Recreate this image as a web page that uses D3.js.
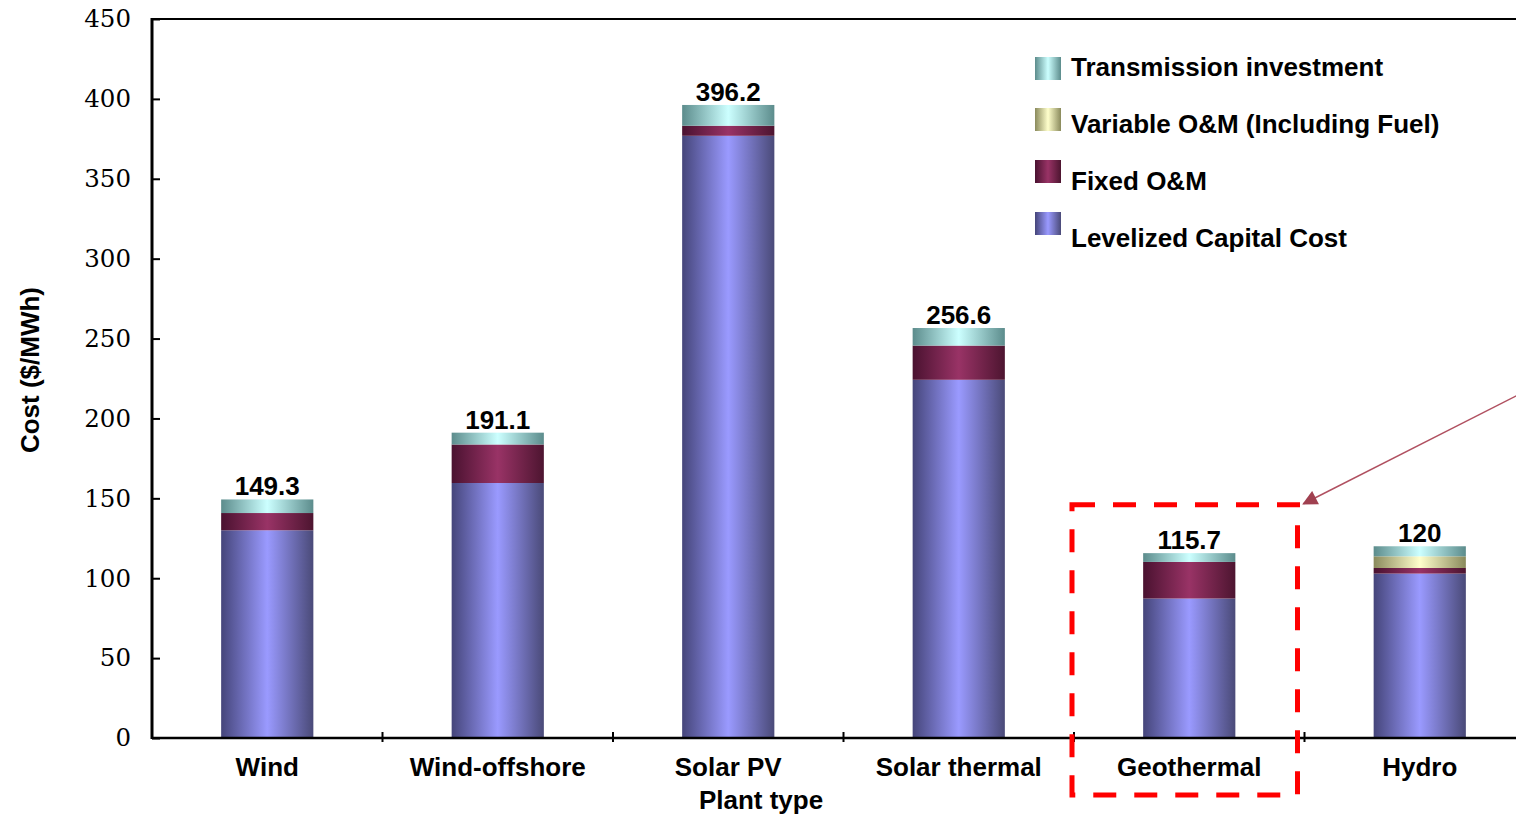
<!DOCTYPE html>
<html>
<head>
<meta charset="utf-8">
<script src="https://cdn.jsdelivr.net/npm/d3@7"></script>
<style>
  body { margin: 0; background: #fff; }
  text { font-family: "Liberation Sans", Arial, sans-serif; font-weight: bold; fill: #000; }
  .ytick text { font-family: "DejaVu Serif", serif; font-weight: normal; }
</style>
</head>
<body>
<svg id="chart" width="1516" height="816"></svg>
<script>
const plants = ["Wind", "Wind-offshore", "Solar PV", "Solar thermal", "Geothermal", "Hydro"];
const capital = [130.0, 159.6, 376.9, 224.2, 87.3, 102.9];
const fixedOM = [10.8, 24.1, 6.3, 21.4, 22.9, 3.5];
const variableOM = [0, 0, 0, 0, 0, 7.3];
const transmission = [8.5, 7.4, 13.0, 11.0, 5.5, 6.3];
const totals = ["149.3", "191.1", "396.2", "256.6", "115.7", "120"];
const yTicks = [0, 50, 100, 150, 200, 250, 300, 350, 400, 450];
const seriesNames = ["Levelized Capital Cost", "Fixed O&M", "Variable O&M (Including Fuel)", "Transmission investment"];

const cfg = {
    left: 152,
    top: 19,
    bottom: 738,
    step: 230.5,
    barFrac: 0.4,
    fontSize: 26,
};

// dark edge / light middle gradients per series
const shades = [
    ["#45457a", "#9a9aff", "#4a4a78"],
    ["#4a1230", "#993366", "#4d1530"],
    ["#8a8a5c", "#ffffcc", "#8a8a5c"],
    ["#5c8c8c", "#ccffff", "#5c8c8c"],
];

var svg = d3.select("#chart");

var x = d3.scaleBand()
    .domain(plants)
    .range([cfg.left, cfg.left + cfg.step * plants.length])
    .padding(0);

var y = d3.scaleLinear()
    .domain([0, 450])
    .range([cfg.bottom, cfg.top]);

// gradients
var defs = svg.append("defs");
shades.forEach((s, i) => {
    var g = defs.append("linearGradient")
        .attr("id", "grad" + i)
        .attr("x1", "0%").attr("x2", "100%")
        .attr("y1", "0%").attr("y2", "0%");
    g.append("stop").attr("offset", "0%").attr("stop-color", s[0]);
    g.append("stop").attr("offset", "50%").attr("stop-color", s[1]);
    g.append("stop").attr("offset", "100%").attr("stop-color", s[2]);
});

// stack the data
var rows = plants.map((p, i) => ({
    plant: p,
    capital: capital[i],
    fixed: fixedOM[i],
    variable: variableOM[i],
    trans: transmission[i],
}));
var keys = ["capital", "fixed", "variable", "trans"];
var stacked = d3.stack().keys(keys)(rows);

var barW = x.bandwidth() * cfg.barFrac;

svg.append("g")
    .selectAll("g")
    .data(stacked)
    .join("g")
    .attr("fill", (d, i) => "url(#grad" + i + ")")
    .selectAll("rect")
    .data(d => d.filter(v => v[1] - v[0] > 0))
    .join("rect")
    .attr("x", d => x(d.data.plant) + (x.bandwidth() - barW) / 2)
    .attr("width", barW)
    .attr("y", d => y(d[1]))
    .attr("height", d => y(d[0]) - y(d[1]));

// value labels on top
svg.append("g")
    .selectAll("text")
    .data(plants)
    .join("text")
    .attr("x", p => x(p) + x.bandwidth() / 2)
    .attr("y", (p, i) => y(+totals[i]) - 4)
    .attr("text-anchor", "middle")
    .attr("font-size", cfg.fontSize)
    .text((p, i) => totals[i]);

// y axis, ticks pointing inward
var yAxis = svg.append("g")
    .attr("class", "ytick")
    .attr("transform", "translate(" + cfg.left + ",0)")
    .call(d3.axisLeft(y).tickValues(yTicks).tickSize(-8).tickPadding(21));
yAxis.select(".domain").remove();
yAxis.selectAll("line").attr("stroke", "#000").attr("stroke-width", 2);
yAxis.selectAll("text").attr("font-size", 24.5).attr("fill", "#000");

svg.append("line")
    .attr("x1", cfg.left).attr("x2", cfg.left)
    .attr("y1", cfg.top - 1).attr("y2", cfg.bottom + 1)
    .attr("stroke", "#000").attr("stroke-width", 3);

// top frame line
svg.append("line")
    .attr("x1", cfg.left).attr("x2", 1516)
    .attr("y1", cfg.top).attr("y2", cfg.top)
    .attr("stroke", "#000").attr("stroke-width", 2);

// x axis line + boundary ticks
svg.append("line")
    .attr("x1", cfg.left).attr("x2", 1516)
    .attr("y1", cfg.bottom).attr("y2", cfg.bottom)
    .attr("stroke", "#000").attr("stroke-width", 2.5);

svg.append("g")
    .selectAll("line")
    .data(plants.slice(1))
    .join("line")
    .attr("x1", p => x(p)).attr("x2", p => x(p))
    .attr("y1", cfg.bottom - 6).attr("y2", cfg.bottom + 4)
    .attr("stroke", "#000").attr("stroke-width", 2);

// category labels
svg.append("g")
    .selectAll("text")
    .data(plants)
    .join("text")
    .attr("x", p => x(p) + x.bandwidth() / 2)
    .attr("y", 776)
    .attr("text-anchor", "middle")
    .attr("font-size", cfg.fontSize)
    .text(p => p);

svg.append("text")
    .attr("x", 761).attr("y", 809)
    .attr("text-anchor", "middle")
    .attr("font-size", cfg.fontSize)
    .text("Plant type");

svg.append("text")
    .attr("transform", "translate(39,370) rotate(-90)")
    .attr("text-anchor", "middle")
    .attr("font-size", cfg.fontSize)
    .text("Cost ($/MWh)");

// legend, top entry = last series
var legendTops = [212, 160, 108, 57];
var legendBase = [247, 190, 133, 76];
var leg = svg.append("g");
seriesNames.forEach((name, i) => {
    leg.append("rect")
        .attr("x", 1035).attr("y", legendTops[i])
        .attr("width", 26).attr("height", 23)
        .attr("fill", "url(#grad" + i + ")");
    leg.append("text")
        .attr("x", 1071).attr("y", legendBase[i])
        .attr("font-size", cfg.fontSize)
        .text(name);
});

// dashed highlight around Geothermal
var gx = x("Geothermal");
var boxTop = y(146);
svg.append("rect")
    .attr("x", gx - 2)
    .attr("y", boxTop)
    .attr("width", x.bandwidth() - 5)
    .attr("height", 795 - boxTop)
    .attr("fill", "none")
    .attr("stroke", "#ff0000")
    .attr("stroke-width", 5)
    .attr("stroke-dasharray", "23,18");

// arrow pointing at the box
defs.append("marker")
    .attr("id", "arrowhead")
    .attr("viewBox", "0 0 10 10")
    .attr("refX", 9).attr("refY", 5)
    .attr("markerWidth", 17).attr("markerHeight", 15)
    .attr("markerUnits", "userSpaceOnUse")
    .attr("orient", "auto")
    .append("path")
    .attr("d", "M0,0 L10,5 L0,10 z")
    .attr("fill", "#a04050");

var tipX = gx + x.bandwidth() - 1;
var tipY = boxTop - 1;
svg.append("line")
    .attr("x1", 1530).attr("y1", tipY - 0.507 * (1530 - tipX))
    .attr("x2", tipX).attr("y2", tipY)
    .attr("stroke", "#b05060")
    .attr("stroke-width", 1.5)
    .attr("marker-end", "url(#arrowhead)");
</script>
</body>
</html>
